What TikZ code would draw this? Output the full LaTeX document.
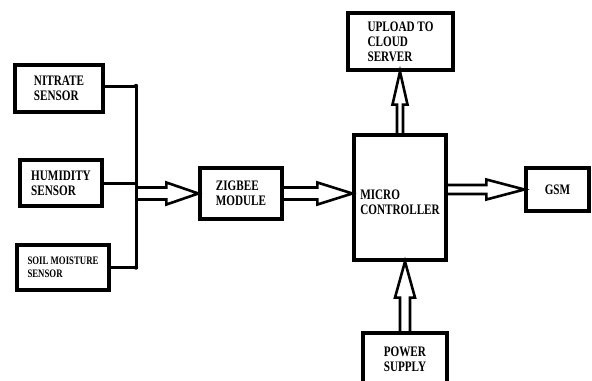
\documentclass[tikz,border=0pt]{standalone}
\usepackage{fontspec}
\setmainfont{Liberation Serif}[FakeStretch=0.77]
\usepackage{tikz}
\usetikzlibrary{calc}

% hollow block arrows: start, tip, half shaft, half head, head length
\newcommand{\hollowright}[5]{%
  \draw[hollow] ($(#1)+(0,-#3)$) -- ($(#2)+(-#5,-#3)$) -- ($(#2)+(-#5,-#4)$) -- (#2)
    -- ($(#2)+(-#5,#4)$) -- ($(#2)+(-#5,#3)$) -- ($(#1)+(0,#3)$);}
\newcommand{\hollowup}[5]{%
  \draw[hollow] ($(#1)+(-#3,0)$) -- ($(#2)+(-#3,#5)$) -- ($(#2)+(-#4,#5)$) -- (#2)
    -- ($(#2)+(#4,#5)$) -- ($(#2)+(#3,#5)$) -- ($(#1)+(#3,0)$);}

\begin{document}
\begin{tikzpicture}[
    x=1bp, y=-1bp,
    block/.style={draw, line width=3.2bp, inner sep=0pt, align=left,
      font=\bfseries\fontsize{14.5bp}{15bp}\selectfont},
    wire/.style={line width=3bp},
    hollow/.style={line width=2.6bp, line join=miter}
]
\clip (0,0) rectangle (592,380);

\node[block, minimum width=88bp, minimum height=47bp] (nit)  at (59,88.5)   {NITRATE\\SENSOR};
\node[block, minimum width=82bp, minimum height=46bp] (hum)  at (61,183)    {HUMIDITY\\SENSOR};
\node[block, minimum width=92bp, minimum height=45bp,
      font=\bfseries\fontsize{11.4bp}{13bp}\selectfont] (soil) at (63,267.5) {SOIL MOISTURE\\SENSOR};
\node[block, minimum width=82bp, minimum height=51bp] (zig)  at (241,193.5) {ZIGBEE\\MODULE};
\node[block, minimum width=92bp, minimum height=125bp] (mc)  at (400,197.5) {\\[5bp]MICRO\\CONTROLLER};
\node[block, minimum width=105bp, minimum height=57bp] (up)  at (400.5,41.5) {UPLOAD TO\\CLOUD\\SERVER};
\node[block, minimum width=63bp, minimum height=43bp] (gsm)  at (557.5,189.5) {GSM};
\node[block, minimum width=84bp, minimum height=53bp] (pow)  at (405,359.5) {POWER\\SUPPLY};

% sensor bus
\coordinate (btop) at (136,86);
\coordinate (bbot) at (btop |- soil.east);
\draw[wire] (nit.east |- btop) -- (btop) -- (bbot) -- (soil.east);
\draw[wire] (hum.east) -- (hum.east -| btop);
\fill (btop) circle (2.2bp) (bbot) circle (2.2bp);

% block arrows
\coordinate (a1) at (zig.west -| btop);
\coordinate (a2) at (zig.east -| mc.west);
\coordinate (a3) at (gsm.west -| mc.east);
\coordinate (a4) at (mc.north |- up.south);
\coordinate (a5) at (pow.north |- mc.south);
\hollowright{a1}{zig.west}{6}{11}{32}
\hollowright{zig.east}{a2}{6}{11}{35}
\hollowright{a3}{gsm.west}{4.5}{10}{38}
\hollowup{mc.north}{a4}{3}{7.5}{33}
\hollowup{pow.north}{a5}{5}{10}{36}
\end{tikzpicture}
\end{document}
